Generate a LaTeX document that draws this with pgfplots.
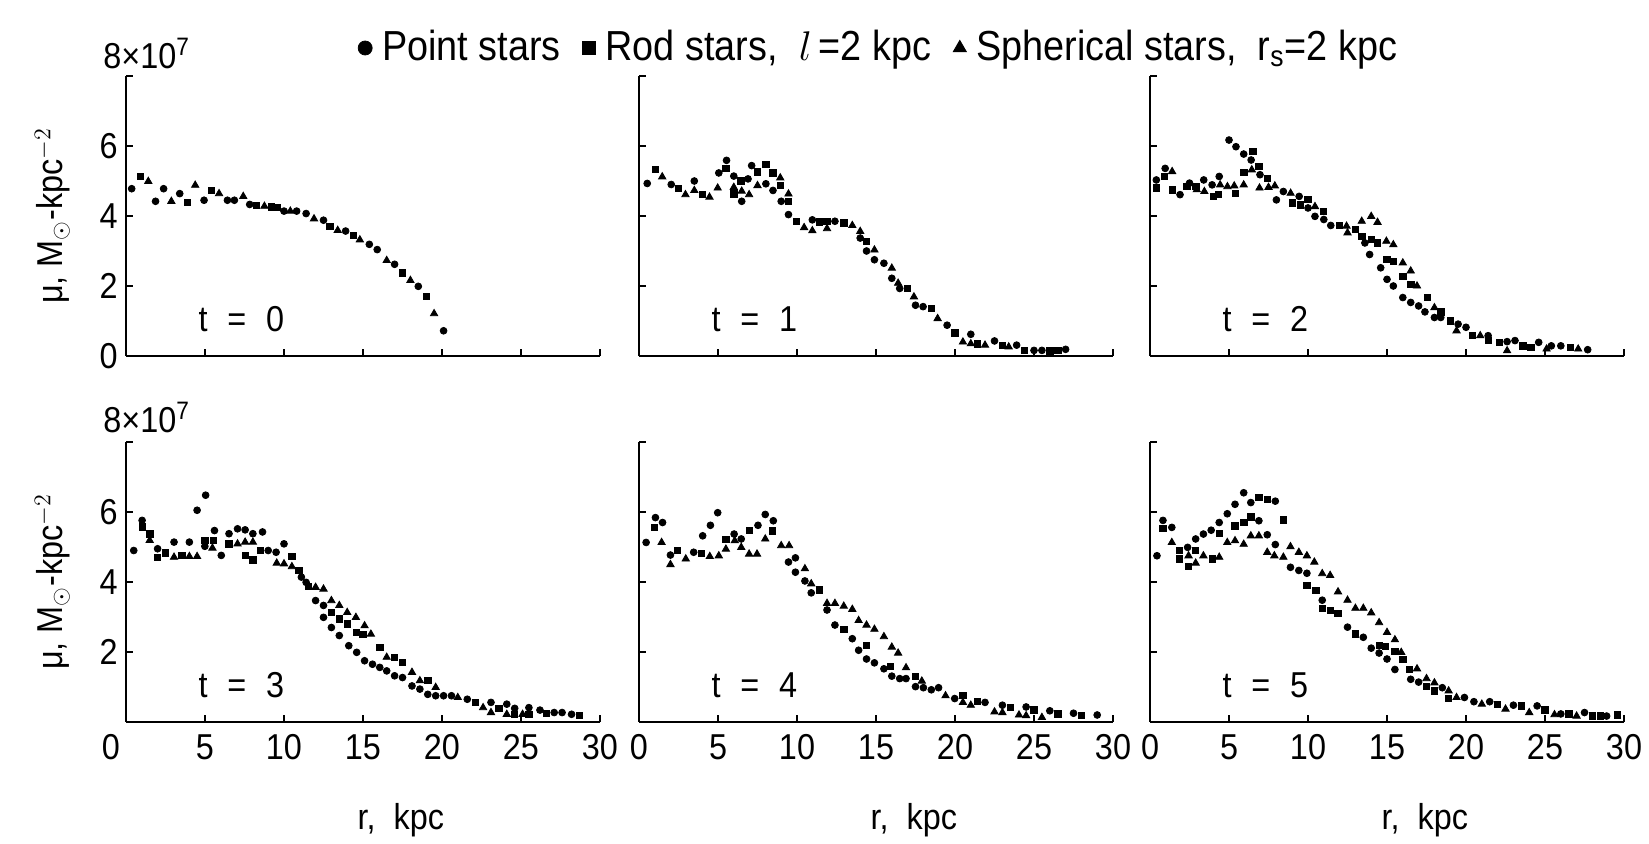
\documentclass[border=0pt]{standalone}
\usepackage{fontspec}
\setmainfont{Liberation Sans}[FakeStretch=0.9]
\usepackage{pgfplots}
\pgfplotsset{compat=1.18}
\pgfplotsset{
  panel/.style={
    scale only axis, width=237pt, height=140pt, anchor=south west,
    xmin=0, xmax=30, ymin=0, ymax=8,
    axis x line=bottom, axis y line=left,
    axis line style={line width=1pt,-},
    every outer x axis line/.append style={-},
    every outer y axis line/.append style={-},
    tick align=inside, major tick length=3.5pt,
    tick style={line width=0.8pt, black},
    xtick={0,5,...,30}, ytick={0,2,4,6,8},
    xticklabels={,,,,,,}, yticklabels={,,,,},
    xticklabel style={anchor=north, inner sep=0pt, yshift=-6pt},
    yticklabel style={anchor=east, inner sep=0pt, xshift=-4pt},
    clip=false,
  },
  P/.style={only marks, mark=*, mark size=1.7pt, black,
    legend image code/.code={\draw[##1, mark size=3.5pt] plot coordinates {(0pt,0pt)};}},
  R/.style={only marks, mark=square*, mark size=1.6pt, black,
    legend image code/.code={\draw[##1, mark size=3.2pt] plot coordinates {(0pt,0pt)};}},
  S/.style={only marks, mark=triangle*, mark size=2.1pt, black,
    legend image code/.code={\draw[##1, mark size=3.8pt] plot coordinates {(0pt,0pt)};}},
  ylab/.style={ylabel={μ, M$_{\odot}$-kpc$^{-2}$},
    ylabel style={at={(axis description cs:-0.155,0.5)}, anchor=center}},
  xlab/.style={xlabel={r,\ \ kpc}, xticklabels={0,5,10,15,20,25,30},
    xlabel style={at={(axis description cs:0.58,-0.35)}, anchor=center}},
}
\newcommand{\tl}[1]{t\hspace{0.55em}=\hspace{0.55em}#1}
\begin{document}
\fontsize{18}{21}\selectfont
\begin{tikzpicture}
\useasboundingbox (0,0) rectangle (824.5pt,422pt);
% ---------------- t = 0
\begin{axis}[panel, at={(63pt,244pt)}, ylab, yticklabels={0,2,4,6,{}},
  legend style={at={(axis description cs:1.59,1.1)}, anchor=center, draw=none, fill=none,
    legend columns=3, font=\fontsize{21}{24}\selectfont,
    nodes={inner sep=2pt},
    /tikz/every odd column/.append style={column sep=3pt},
    /tikz/every even column/.append style={column sep=9pt}}]
\addplot[P] coordinates {(0.36,4.78) (1.87,4.42) (2.38,4.78) (3.4,4.64) (4.94,4.45) (6.42,4.45) (6.86,4.45) (7.83,4.33) (10.0,4.14) (10.8,4.14) (11.4,4.07) (12.5,3.88) (13.9,3.57) (15.4,3.19) (15.9,3.04) (17.0,2.62) (18.5,1.99) (20.1,0.72)};
\addlegendentry{Point stars}
\addplot[R] coordinates {(0.9,5.13) (3.9,4.38) (5.4,4.73) (8.27,4.30) (9.2,4.26) (9.6,4.24) (12.9,3.70) (14.4,3.45) (17.5,2.37) (19.0,1.70)};
\addlegendentry{Rod stars,\ \ $l$\,=2 kpc}
\addplot[S] coordinates {(1.41,4.99) (2.87,4.42) (4.38,4.88) (5.89,4.64) (7.42,4.56) (8.76,4.28) (10.4,4.14) (11.9,3.92) (13.4,3.59) (14.8,3.32) (16.5,2.73) (18.0,2.16) (19.5,1.21)};
\addlegendentry{Spherical stars,\ \ r\textsubscript{s}=2 kpc}
\node[anchor=center] at (axis cs:7.3,1.05) {\tl{0}};
\node[anchor=base west, inner sep=0pt] at ([xshift=-11.5pt, yshift=4pt]rel axis cs:0,1) {8×10\textsuperscript{7}};
\end{axis}
% ---------------- t = 1
\begin{axis}[panel, at={(319.5pt,244pt)}]
\addplot[P] coordinates {(0.52,4.93) (2.04,4.90) (3.5,5.0) (5.05,5.23) (5.54,5.59) (6.0,5.14) (6.5,4.42) (6.9,5.06) (7.13,5.44) (8.03,4.92) (8.48,4.73) (9.0,4.42) (9.46,4.04) (10.97,3.89) (12.4,3.85) (14.0,3.37) (14.4,3.0) (14.9,2.75) (15.5,2.65) (16.0,2.22) (16.5,1.93) (17.5,1.45) (17.98,1.41) (19.5,0.88) (21.0,0.62) (22.5,0.43) (23.9,0.31) (25.0,0.16) (25.5,0.16) (27.0,0.19)};
\addplot[R] coordinates {(1.02,5.33) (2.49,4.78) (4.0,4.61) (5.5,5.36) (6.0,4.63) (6.45,5.0) (7.5,5.26) (8.03,5.47) (8.48,5.23) (8.94,4.87) (9.46,4.42) (9.95,3.85) (11.4,3.83) (11.9,3.85) (12.96,3.80) (14.4,3.27) (17.0,1.93) (18.5,1.36) (20.0,0.66) (21.4,0.35) (23.0,0.31) (24.4,0.16) (26.0,0.14) (26.5,0.16)};
\addplot[S] coordinates {(1.47,5.12) (2.94,4.61) (3.5,4.73) (4.46,4.54) (4.98,4.80) (6.0,4.82) (6.5,4.71) (6.97,4.61) (7.5,4.87) (8.94,5.09) (9.46,4.63) (10.45,3.67) (10.97,3.58) (11.9,3.64) (13.5,3.73) (14.0,3.56) (14.9,3.03) (16.0,2.51) (16.4,2.08) (17.4,1.69) (18.9,1.07) (20.5,0.40) (21.0,0.35) (21.9,0.31) (23.4,0.26)};
\node[anchor=center] at (axis cs:7.3,1.05) {\tl{1}};
\end{axis}
% ---------------- t = 2
\begin{axis}[panel, at={(575pt,244pt)}]
\addplot[P] coordinates {(0.4,5.03) (0.96,5.36) (1.9,4.61) (2.5,4.94) (3.4,5.03) (3.93,4.89) (4.38,5.13) (5.0,6.17) (5.44,5.98) (5.93,5.77) (6.4,5.60) (6.96,5.18) (8.0,4.46) (8.44,4.70) (9.44,4.56) (10.0,4.23) (10.44,3.99) (11.0,3.90) (11.44,3.73) (13.6,3.23) (13.9,2.90) (14.6,2.52) (15.0,2.19) (15.4,2.0) (16.0,1.67) (16.5,1.53) (17.0,1.43) (17.4,1.26) (18.0,1.10) (18.4,1.10) (19.5,0.91) (20.0,0.82) (21.4,0.58) (22.6,0.41) (23.1,0.44) (24.6,0.39) (25.4,0.29) (26.0,0.29) (27.7,0.18)};
\addplot[R] coordinates {(0.4,4.80) (0.9,5.13) (1.4,4.75) (2.33,4.84) (2.9,4.84) (4.0,4.56) (4.33,4.61) (5.4,4.64) (5.93,5.24) (6.5,5.84) (6.89,5.41) (7.44,5.08) (9.0,4.37) (9.5,4.32) (10.0,4.48) (10.96,4.13) (12.0,3.73) (13.0,3.61) (13.4,3.42) (14.0,3.33) (14.4,3.23) (15.0,2.76) (15.4,2.71) (16.0,2.28) (16.5,2.05) (17.56,1.67) (18.4,1.26) (19.0,1.0) (20.4,0.58) (21.4,0.44) (22.1,0.39) (23.6,0.29) (24.1,0.25) (26.6,0.25)};
\addplot[S] coordinates {(1.4,5.27) (2.96,4.75) (3.44,4.70) (4.44,4.89) (4.9,4.84) (5.33,4.86) (5.93,4.89) (6.44,5.32) (6.93,4.80) (7.5,4.82) (7.9,4.86) (8.9,4.65) (10.44,4.27) (12.44,3.71) (12.5,3.52) (13.4,3.85) (14.0,3.99) (14.4,3.82) (14.96,3.28) (15.4,3.18) (16.0,2.66) (16.5,2.43) (16.9,2.0) (18.0,1.38) (19.4,0.72) (20.9,0.58) (22.6,0.15) (25.1,0.20) (27.1,0.20)};
\node[anchor=center] at (axis cs:7.3,1.05) {\tl{2}};
\end{axis}
% ---------------- t = 3
\begin{axis}[panel, at={(63pt,61pt)}, ylab, xlab, yticklabels={{},2,4,6,{}},
  xticklabels={{\hspace{-15pt}0},5,10,15,20,25,30}]
\addplot[P] coordinates {(0.49,4.90) (1.02,5.76) (2.0,4.95) (3.04,5.14) (4.01,5.14) (4.5,6.05) (5.04,6.48) (4.99,5.02) (5.6,5.47) (6.03,4.76) (6.52,5.38) (7.06,5.52) (7.54,5.49) (8.03,5.38) (8.64,5.43) (9.0,4.90) (9.5,4.85) (10.0,5.09) (11.1,4.14) (11.4,3.99) (12.0,3.47) (12.5,3.33) (12.5,2.99) (13.0,2.70) (13.5,2.47) (14.1,2.18) (14.6,1.99) (15.1,1.75) (15.6,1.65) (16.06,1.56) (16.5,1.46) (17.0,1.32) (17.5,1.27) (18.1,1.03) (18.6,0.94) (19.1,0.79) (19.6,0.75) (20.1,0.75) (20.6,0.75) (21.6,0.65) (23.1,0.56) (24.1,0.51) (24.6,0.39) (25.5,0.41) (26.2,0.34) (27.1,0.27) (27.6,0.27) (28.2,0.22)};
\addplot[R] coordinates {(1.02,5.57) (1.5,5.38) (2.0,4.71) (2.48,4.83) (3.53,4.76) (4.99,5.19) (5.55,5.19) (6.52,5.09) (7.54,4.76) (8.03,4.63) (8.5,4.90) (10.5,4.73) (10.95,4.33) (11.55,3.87) (13.0,3.13) (13.5,2.94) (14.0,2.80) (14.6,2.56) (15.0,2.51) (16.06,2.13) (17.0,1.85) (17.5,1.70) (19.1,1.18) (22.1,0.56) (23.6,0.39) (24.6,0.22) (25.5,0.22) (26.6,0.25) (28.7,0.19)};
\addplot[S] coordinates {(1.5,5.19) (3.04,4.71) (4.01,4.73) (4.5,4.73) (5.47,4.97) (7.06,5.09) (7.54,5.14) (8.03,5.14) (9.54,4.54) (10.0,4.52) (10.5,4.44) (12.0,3.85) (12.5,3.80) (13.0,3.47) (13.5,3.33) (14.0,3.13) (14.55,2.99) (15.1,2.75) (15.5,2.51) (16.5,1.85) (18.1,1.42) (18.6,1.18) (19.6,0.99) (21.0,0.70) (22.6,0.41) (23.1,0.27) (24.1,0.22) (25.1,0.22)};
\node[anchor=center] at (axis cs:7.3,1.05) {\tl{3}};
\node[anchor=base west, inner sep=0pt] at ([xshift=-11.5pt, yshift=5pt]rel axis cs:0,1) {8×10\textsuperscript{7}};
\end{axis}
% ---------------- t = 4
\begin{axis}[panel, at={(319.5pt,61pt)}, xlab]
\addplot[P] coordinates {(0.45,5.13) (1.04,5.84) (1.49,5.70) (1.99,4.77) (3.46,4.85) (4.03,5.32) (4.52,5.62) (4.98,5.98) (6.02,5.37) (6.47,5.23) (7.53,5.62) (7.99,5.93) (8.5,5.75) (9.46,4.57) (9.9,4.69) (9.9,4.28) (10.5,4.03) (10.9,3.69) (11.9,3.20) (12.4,2.77) (13.5,2.38) (13.9,2.05) (14.4,1.80) (14.9,1.69) (15.5,1.52) (16.0,1.31) (16.5,1.24) (16.9,1.24) (17.5,1.01) (18.0,0.98) (18.5,0.92) (18.96,0.98) (19.98,0.67) (21.9,0.56) (23.0,0.48) (24.5,0.43) (26.0,0.32) (27.5,0.25) (29.0,0.20)};
\addplot[R] coordinates {(0.97,5.56) (2.44,4.90) (3.96,4.82) (5.5,5.21) (6.97,5.48) (8.44,5.46) (11.4,3.78) (12.96,2.65) (14.4,2.18) (15.9,1.59) (17.5,1.31) (20.5,0.76) (21.4,0.58) (23.5,0.42) (25.0,0.34) (26.5,0.23) (28.0,0.18)};
\addplot[S] coordinates {(1.43,5.13) (1.99,4.50) (2.96,4.66) (4.48,4.73) (5.05,4.75) (5.5,4.94) (6.06,5.18) (6.47,4.99) (6.97,4.80) (7.47,4.80) (7.99,5.23) (9.0,5.04) (9.5,5.04) (10.5,4.38) (10.9,3.95) (11.9,3.39) (12.4,3.39) (12.96,3.31) (13.5,3.22) (13.9,2.90) (14.4,2.77) (14.9,2.65) (15.5,2.44) (16.0,2.14) (16.4,1.97) (16.9,1.55) (17.9,1.17) (19.4,0.75) (20.5,0.56) (21.0,0.48) (22.5,0.29) (23.0,0.27) (24.05,0.20) (24.5,0.18) (25.5,0.13)};
\node[anchor=center] at (axis cs:7.3,1.05) {\tl{4}};
\end{axis}
% ---------------- t = 5
\begin{axis}[panel, at={(575pt,61pt)}, xlab]
\addplot[P] coordinates {(0.44,4.75) (0.82,5.76) (1.38,5.56) (2.38,4.99) (2.89,5.23) (3.38,5.37) (3.87,5.48) (4.38,5.70) (4.89,5.95) (5.38,6.22) (5.93,6.55) (6.38,6.27) (6.89,5.75) (7.42,5.35) (7.93,6.31) (7.93,5.07) (8.89,4.42) (9.42,4.33) (9.93,4.25) (10.9,3.48) (12.5,2.71) (13.5,2.42) (14.0,2.11) (14.5,1.97) (15.0,1.80) (15.5,1.50) (16.5,1.22) (17.0,1.14) (18.5,0.98) (19.9,0.70) (20.5,0.58) (21.5,0.58) (23.0,0.48) (24.5,0.46) (26.0,0.23) (27.5,0.27) (28.9,0.17)};
\addplot[R] coordinates {(0.82,5.54) (1.87,4.90) (1.87,4.66) (2.44,4.44) (2.89,4.90) (3.93,4.66) (4.38,5.39) (5.38,5.60) (5.93,5.70) (6.38,5.86) (6.89,6.41) (7.42,6.36) (8.44,5.77) (9.93,3.91) (10.5,3.76) (10.9,3.25) (11.4,3.18) (11.9,3.10) (13.0,2.52) (14.5,2.18) (14.9,2.16) (15.5,2.02) (16.0,1.78) (16.4,1.50) (17.5,1.01) (18.0,0.89) (18.9,0.67) (22.0,0.51) (23.5,0.46) (25.0,0.34) (26.5,0.23) (28.0,0.17) (28.5,0.17) (29.6,0.20)};
\addplot[S] coordinates {(1.38,5.13) (2.44,4.75) (2.89,4.54) (3.38,4.75) (4.38,4.71) (4.89,5.13) (5.38,5.18) (5.93,5.08) (6.38,5.32) (6.89,5.32) (7.42,4.85) (7.87,4.75) (8.44,4.71) (8.89,5.01) (9.42,4.85) (9.93,4.75) (10.4,4.57) (10.9,4.24) (11.4,4.19) (11.9,3.72) (12.5,3.48) (13.0,3.25) (13.5,3.25) (14.0,3.12) (14.5,2.84) (15.0,2.56) (15.5,2.35) (15.9,1.99) (16.9,1.52) (17.5,1.24) (18.0,1.12) (18.9,0.89) (19.4,0.70) (21.0,0.51) (22.5,0.37) (24.0,0.27) (25.6,0.21) (27.0,0.17)};
\node[anchor=center] at (axis cs:7.3,1.05) {\tl{5}};
\end{axis}
\end{tikzpicture}
\end{document}
